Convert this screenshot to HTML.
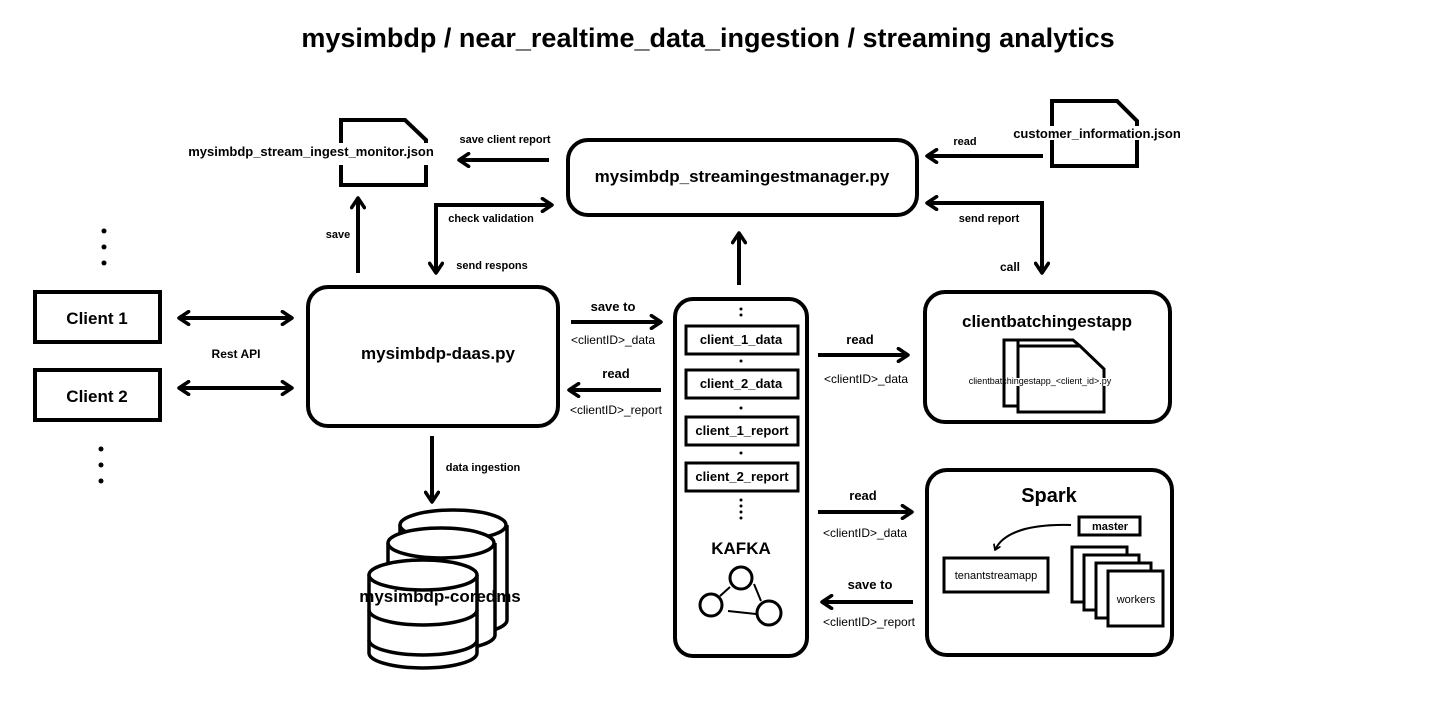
<!DOCTYPE html>
<html><head><meta charset="utf-8"><style>
body{margin:0;background:#fff}
svg text{font-family:"Liberation Sans","DejaVu Sans",sans-serif;fill:#000}
.b{font-weight:bold}
</style></head><body>
<svg width="1437" height="711" viewBox="0 0 1437 711" xmlns="http://www.w3.org/2000/svg">
<defs>
<marker id="a" viewBox="0 0 10 10" refX="8" refY="5" markerWidth="4" markerHeight="4" orient="auto-start-reverse" markerUnits="strokeWidth">
<polyline points="2,1 8,5 2,9" fill="none" stroke="#000" stroke-width="2.2" stroke-linecap="round" stroke-linejoin="round"/>
</marker>
</defs>
<g fill="none" stroke="#000" stroke-width="4">
<!-- files -->
<path d="M341,150 V120 H405 L426,140 V150 M426,165 V185 H341 V165"/>
<path d="M1052,130 V101 H1117 L1137,121 V130 M1137,140 V166 H1052 V140"/>
<!-- manager -->
<rect x="568" y="140" width="349" height="75" rx="20"/>
<!-- daas -->
<rect x="308" y="287" width="250" height="139" rx="20"/>
<!-- clients -->
<rect x="35" y="292" width="125" height="50"/>
<rect x="35" y="370" width="125" height="50"/>
<!-- kafka -->
<rect x="675" y="299" width="132" height="357" rx="18"/>
<rect x="686" y="326" width="112" height="28" stroke-width="3"/>
<rect x="686" y="370" width="112" height="28" stroke-width="3"/>
<rect x="686" y="417" width="112" height="28" stroke-width="3"/>
<rect x="686" y="463" width="112" height="28" stroke-width="3"/>
<circle cx="741" cy="578" r="11" stroke-width="3"/>
<circle cx="711" cy="605" r="11" stroke-width="3"/>
<circle cx="769" cy="613" r="12" stroke-width="3"/>
<path d="M730,587 L720,596 M754,584 L761,601 M728,611 L756,614" stroke-width="2"/>
<!-- clientbatch -->
<rect x="925" y="292" width="245" height="130" rx="20"/>
<path d="M1018,346 V340 H1073 L1080,346 M1018,401 V406 H1004 V340 H1018" stroke-width="3"/>
<path d="M1018,378 V346 H1080 L1104,369 V378 M1104,386 V412 H1018 V386" stroke-width="3"/>
<!-- spark -->
<rect x="927" y="470" width="245" height="185" rx="20"/>
<rect x="1079" y="517" width="61" height="18" stroke-width="3"/>
<rect x="944" y="558" width="104" height="34" stroke-width="3"/>
<rect x="1072" y="547" width="55" height="55" fill="#fff" stroke-width="3"/>
<rect x="1084" y="555" width="55" height="55" fill="#fff" stroke-width="3"/>
<rect x="1096" y="563" width="55" height="55" fill="#fff" stroke-width="3"/>
<rect x="1108" y="571" width="55" height="55" fill="#fff" stroke-width="3"/>
<path d="M1071,525 C1030,524 1003,532 995,550" stroke-width="2" marker-end="url(#a)"/>
<!-- DB cylinders -->
<g fill="#fff" stroke-width="3.5">
<path d="M400,525 V620 A53,15 0 0 0 507,620 V525"/>
<ellipse cx="453" cy="525" rx="53" ry="15"/>
<path d="M388,543 V635 A53,15 0 0 0 495,635 V543"/>
<ellipse cx="441" cy="543" rx="53" ry="15"/>
<path d="M369,575 V653 A54,15 0 0 0 477,653 V575"/>
<ellipse cx="423" cy="575" rx="54" ry="15"/>
<path d="M369,610 A54,15 0 0 0 477,610 M369,640 A54,15 0 0 0 477,640" fill="none"/>
</g>
<!-- arrows -->
<g marker-end="url(#a)">
<path d="M549,160 H459"/>
<path d="M358,273 V198"/>
<path d="M436,273 V205 H552" marker-start="url(#a)"/>
<path d="M1043,156 H927"/>
<path d="M927,203 H1042 V273" marker-start="url(#a)"/>
<path d="M739,285 V233"/>
<path d="M179,318 H292" marker-start="url(#a)"/>
<path d="M179,388 H292" marker-start="url(#a)"/>
<path d="M571,322 H661"/>
<path d="M661,390 H569"/>
<path d="M432,436 V502"/>
<path d="M818,355 H908"/>
<path d="M818,512 H912"/>
<path d="M913,602 H822"/>
</g>
</g>
<!-- dots -->
<g fill="#000">
<circle cx="104" cy="231" r="2.5"/><circle cx="104" cy="247" r="2.5"/><circle cx="104" cy="263" r="2.5"/>
<circle cx="101" cy="449" r="2.5"/><circle cx="101" cy="465" r="2.5"/><circle cx="101" cy="481" r="2.5"/>
<circle cx="741" cy="309" r="1.5"/><circle cx="741" cy="315" r="1.5"/>
<circle cx="741" cy="361" r="1.5"/><circle cx="741" cy="408" r="1.5"/><circle cx="741" cy="453" r="1.5"/>
<circle cx="741" cy="500" r="1.5"/><circle cx="741" cy="506" r="1.5"/><circle cx="741" cy="512" r="1.5"/><circle cx="741" cy="518" r="1.5"/>
</g>
<!-- text -->
<text x="708" y="47" font-size="27" class="b" text-anchor="middle">mysimbdp / near_realtime_data_ingestion / streaming analytics</text>
<rect x="176" y="143" width="270" height="16" fill="#fff"/>
<text x="311" y="156" font-size="13" class="b" text-anchor="middle">mysimbdp_stream_ingest_monitor.json</text>
<rect x="1003" y="126" width="190" height="14" fill="#fff"/>
<text x="1097" y="138" font-size="13" class="b" text-anchor="middle">customer_information.json</text>
<text x="742" y="182" font-size="17" class="b" text-anchor="middle">mysimbdp_streamingestmanager.py</text>
<text x="438" y="359" font-size="17" class="b" text-anchor="middle">mysimbdp-daas.py</text>
<text x="97" y="324" font-size="17" class="b" text-anchor="middle">Client 1</text>
<text x="97" y="402" font-size="17" class="b" text-anchor="middle">Client 2</text>
<g font-size="11" class="b" text-anchor="middle">
<text x="505" y="143">save client report</text>
<text x="338" y="238">save</text>
<text x="491" y="222">check validation</text>
<text x="492" y="269">send respons</text>
<text x="965" y="145">read</text>
<text x="989" y="222">send report</text>
<text x="483" y="471">data ingestion</text>
</g>
<text x="236" y="358" font-size="12" class="b" text-anchor="middle">Rest API</text>
<text x="1010" y="271" font-size="12" class="b" text-anchor="middle">call</text>
<g font-size="13" class="b" text-anchor="middle">
<text x="613" y="311">save to</text>
<text x="616" y="378">read</text>
<text x="860" y="344">read</text>
<text x="863" y="500">read</text>
<text x="870" y="589">save to</text>
<text x="741" y="344">client_1_data</text>
<text x="741" y="388">client_2_data</text>
<text x="742" y="435">client_1_report</text>
<text x="742" y="481">client_2_report</text>
</g>
<g font-size="12" text-anchor="middle">
<text x="613" y="344">&lt;clientID&gt;_data</text>
<text x="616" y="414">&lt;clientID&gt;_report</text>
<text x="866" y="383">&lt;clientID&gt;_data</text>
<text x="865" y="537">&lt;clientID&gt;_data</text>
<text x="869" y="626">&lt;clientID&gt;_report</text>
</g>
<text x="741" y="554" font-size="17" class="b" text-anchor="middle">KAFKA</text>
<text x="1047" y="327" font-size="17" class="b" text-anchor="middle">clientbatchingestapp</text>
<text x="1040" y="384" font-size="9" text-anchor="middle">clientbatchingestapp_&lt;client_id&gt;.py</text>
<text x="1049" y="502" font-size="20" class="b" text-anchor="middle">Spark</text>
<text x="1110" y="530" font-size="11" class="b" text-anchor="middle">master</text>
<text x="996" y="579" font-size="11" text-anchor="middle">tenantstreamapp</text>
<text x="1136" y="603" font-size="11" text-anchor="middle">workers</text>
<text x="440" y="602" font-size="17" class="b" text-anchor="middle">mysimbdp-coredms</text>
</svg>
</body></html>
